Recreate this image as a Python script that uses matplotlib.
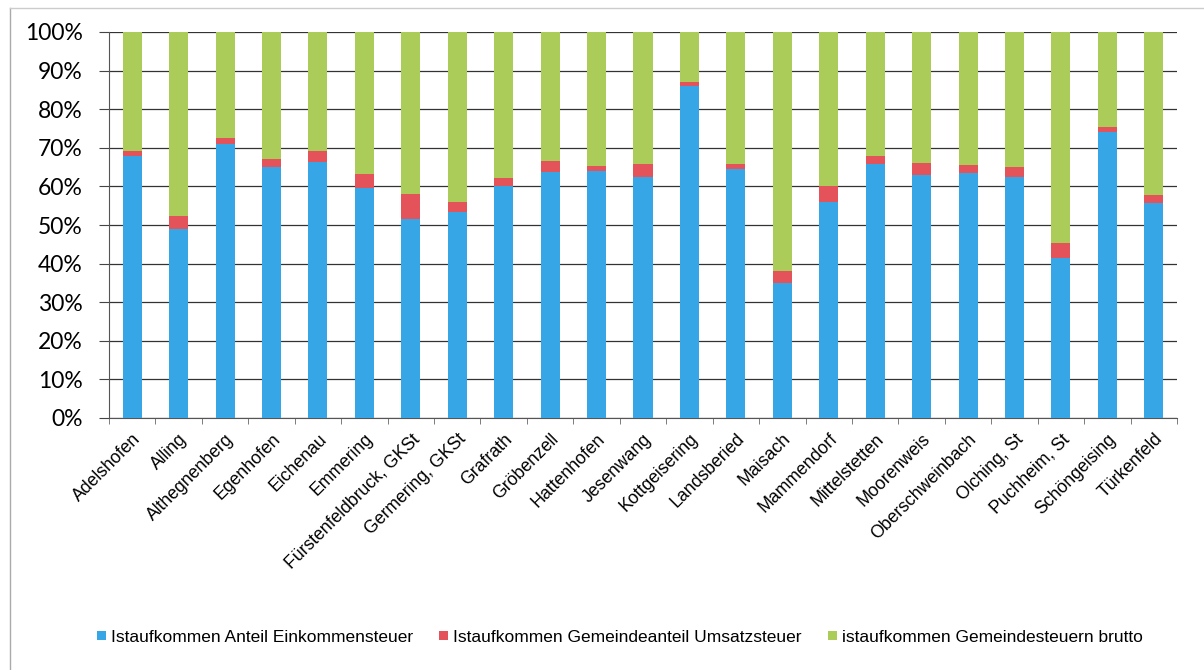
import numpy as np
import matplotlib.pyplot as plt
from matplotlib.lines import Line2D

# %% data (shares in percent)
gemeinden = ['Adelshofen', 'Alling', 'Althegnenberg', 'Egenhofen', 'Eichenau',
             'Emmering', 'Fürstenfeldbruck, GKSt', 'Germering, GKSt', 'Grafrath',
             'Gröbenzell', 'Hattenhofen', 'Jesenwang', 'Kottgeisering',
             'Landsberied', 'Maisach', 'Mammendorf', 'Mittelstetten', 'Moorenweis',
             'Oberschweinbach', 'Olching, St', 'Puchheim, St', 'Schöngeising',
             'Türkenfeld']
einkommensteuer = [67.8, 49.0, 70.9, 65.0, 66.4, 59.7, 51.6, 53.3, 60.0,
                   63.7, 64.0, 62.4, 86.0, 64.5, 35.0, 55.9, 65.9, 63.0,
                   63.6, 62.4, 41.5, 74.0, 55.7]
umsatzsteuer = [1.3, 3.4, 1.7, 2.2, 2.9, 3.6, 6.5, 2.6, 2.3,
                2.9, 1.4, 3.3, 1.0, 1.2, 3.1, 4.3, 1.9, 3.1,
                1.9, 2.6, 3.9, 1.4, 2.2]
gemeindesteuern = [100 - a - b for a, b in zip(einkommensteuer, umsatzsteuer)]

labels = ['Istaufkommen Anteil Einkommensteuer',
          'Istaufkommen Gemeindeanteil Umsatzsteuer',
          'istaufkommen Gemeindesteuern brutto']
colors = ['#36a6e6', '#e5535a', '#accc5a']

# %% plot
plt.rcParams['font.family'] = ['Liberation Sans', 'DejaVu Sans']

fig = plt.figure(figsize=(12.04, 6.70), dpi=100)
ax = fig.add_axes([109 / 1204, 1 - 418 / 670, (1177 - 109) / 1204, (418 - 32) / 670])

x = np.arange(len(gemeinden))
w = 0.41
ax.bar(x, einkommensteuer, w, color=colors[0], label=labels[0], zorder=3)
ax.bar(x, umsatzsteuer, w, bottom=einkommensteuer, color=colors[1],
       label=labels[1], zorder=3)
ax.bar(x, gemeindesteuern, w, bottom=np.add(einkommensteuer, umsatzsteuer),
       color=colors[2], label=labels[2], zorder=3)

ax.set_xlim(-0.5, len(gemeinden) - 0.5)
ax.set_ylim(0, 100)
ax.set_yticks(np.arange(0, 101, 10))
ax.set_yticklabels([f'{v}%' for v in range(0, 101, 10)], fontsize=16.5,
                   family=['Lato', 'DejaVu Sans'])
ax.yaxis.grid(True, color='#333333', lw=0.9, zorder=0)

ax.set_xticks(x)
ax.set_xticklabels(gemeinden, rotation=45, ha='right', rotation_mode='anchor',
                   fontsize=12.7)
ax.tick_params(axis='x', length=0, pad=9)
ax.set_xticks(np.arange(-0.5, len(gemeinden), 1), minor=True)
ax.tick_params(axis='x', which='minor', length=4, color='#666666')
ax.tick_params(axis='y', length=7, color='#444444', pad=12)

for s in ['top', 'right']:
    ax.spines[s].set_visible(False)
ax.spines['left'].set_color('#555555')
ax.spines['bottom'].set_color('#555555')

fig.legend(loc='center', bbox_to_anchor=(0.515, 0.049), ncol=3, frameon=False,
           fontsize=12.5, handlelength=0.5, handleheight=0.5, handletextpad=0.3,
           columnspacing=1.5)

# chart frame
fig.add_artist(Line2D([10 / 1204, 10 / 1204], [0, 1 - 8 / 670], color='#aaaaaa', lw=1))
fig.add_artist(Line2D([10 / 1204, 1], [1 - 8 / 670, 1 - 8 / 670], color='#cccccc', lw=1))

fig.savefig('out.png', dpi=100)
